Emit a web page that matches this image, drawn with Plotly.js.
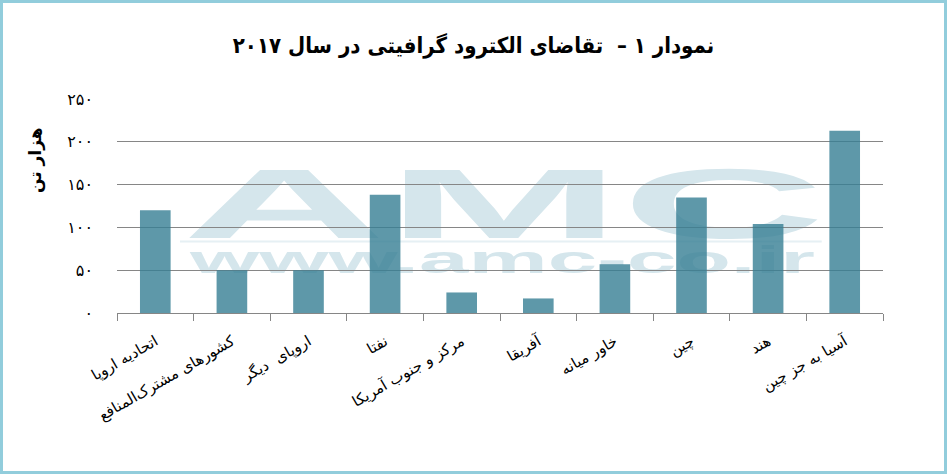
<!DOCTYPE html>
<html>
<head>
<meta charset="utf-8">
<script src="https://cdn.plot.ly/plotly-3.0.1.min.js"></script>
<style>
  html, body { margin: 0; padding: 0; background: #fff; }
  #wrap { position: relative; width: 947px; height: 474px; }
  #chart { width: 947px; height: 474px; }
  #frame { position: absolute; left: 0; top: 0; width: 947px; height: 474px; box-sizing: border-box; border: 3px solid #92cddc; pointer-events: none; }
</style>
</head>
<body>
<div id="wrap"><div id="chart"></div><div id="frame"></div></div>
<script>
const categories = ['اتحادیه اروپا', 'کشورهای مشترک‌المنافع', 'اروپای  دیگر', 'نفتا', 'مرکز و جنوب آمریکا', 'آفریقا', 'خاور میانه', 'چین', 'هند', 'آسیا به جز چین'];
const demandValues = [120, 50, 50, 138, 24, 17, 57, 135, 104, 213];
const yTickVals = [0, 50, 100, 150, 200, 250];
const yTickText = ['۰', '۵۰', '۱۰۰', '۱۵۰', '۲۰۰', '۲۵۰'];
const chartTitle = 'نمودار ۱ –  تقاضای الکترود گرافیتی در سال ۲۰۱۷';
const yTitle = 'هزار تن';
const watermarkBig = 'AMC';
const watermarkSmall = 'www.amc-co.ir';

const faFont = 'DejaVu Sans, Noto Sans, sans-serif';
const faFontCond = 'DejaVu Sans Condensed, DejaVu Sans, sans-serif';

const trace = {
  type: 'bar',
  x: categories,
  y: demandValues,
  marker: { color: 'rgba(54,126,148,0.8)', line: { width: 0 } },
  hoverinfo: 'x+y'
};

const layout = {
  width: 947,
  height: 474,
  margin: { l: 117, r: 64, t: 99, b: 161 },
  paper_bgcolor: '#ffffff',
  plot_bgcolor: '#ffffff',
  showlegend: false,
  bargap: 0.6,
  title: {
    text: '<b>' + chartTitle + '</b>',
    font: { family: faFontCond, size: 22, color: '#000' },
    x: 0.5, xref: 'container', xanchor: 'center',
    y: 0.905, yref: 'container', yanchor: 'middle'
  },
  xaxis: {
    type: 'category',
    tickson: 'boundaries',
    ticks: 'outside', ticklen: 7, tickcolor: '#868686', tickwidth: 1,
    showline: true, linecolor: '#868686', linewidth: 1,
    showgrid: false, zeroline: false,
    tickangle: -30,
    ticklabelstandoff: 13,
    tickfont: { family: faFont, size: 15, color: '#000' },
    automargin: false, fixedrange: true
  },
  yaxis: {
    range: [0, 250],
    tickmode: 'array', tickvals: yTickVals, ticktext: yTickText,
    showgrid: true, gridcolor: '#868686', gridwidth: 1,
    zeroline: false, showline: false, ticks: '',
    ticklabelstandoff: 23,
    tickfont: { family: faFont, size: 16, color: '#000' },
    automargin: false, fixedrange: true
  },
  shapes: [{
    type: 'line', layer: 'below', xref: 'paper', yref: 'paper',
    x0: 0.0822, x1: 0.920, y0: 0.334, y1: 0.334,
    line: { color: '#e6f0f4', width: 2 }
  }],
  annotations: [
    {
      text: '<b>' + watermarkBig + '</b>', xref: 'paper', yref: 'paper',
      x: 0.5046, y: 0.5117, xanchor: 'center', yanchor: 'middle',
      showarrow: false,
      font: { family: 'Liberation Sans, Arial, sans-serif', size: 99, color: '#d5e6ec' }
    },
    {
      text: '<b>' + watermarkSmall + '</b>', xref: 'paper', yref: 'paper',
      x: 0.503, y: 0.2477, xanchor: 'center', yanchor: 'middle',
      showarrow: false,
      font: { family: 'Liberation Sans, Arial, sans-serif', size: 38, color: '#d5e6ec' }
    },
    {
      text: '<b>' + yTitle + '</b>', xref: 'paper', yref: 'paper',
      x: -0.1057, y: 0.715, xanchor: 'center', yanchor: 'middle',
      textangle: -90, showarrow: false,
      font: { family: faFont, size: 17, color: '#000' }
    }
  ]
};

Plotly.newPlot('chart', [trace], layout, { displayModeBar: false, staticPlot: true }).then(function (gd) {
  const stretch = [643, 625];
  const svgs = gd.querySelectorAll('svg.main-svg');
  const baseSvg = svgs[0];
  const bg = baseSvg.querySelector('.bglayer');
  [0, 1].forEach(function (i) {
    const g = gd.querySelector('g.annotation[data-index="' + i + '"]');
    if (!g) return;
    const t = g.querySelector('text.annotation-text');
    if (t) {
      t.setAttribute('textLength', stretch[i]);
      t.setAttribute('lengthAdjust', 'spacingAndGlyphs');
    }
    if (bg && bg.parentNode) {
      bg.parentNode.insertBefore(g, bg.nextSibling);
    }
  });
});
</script>
</body>
</html>
